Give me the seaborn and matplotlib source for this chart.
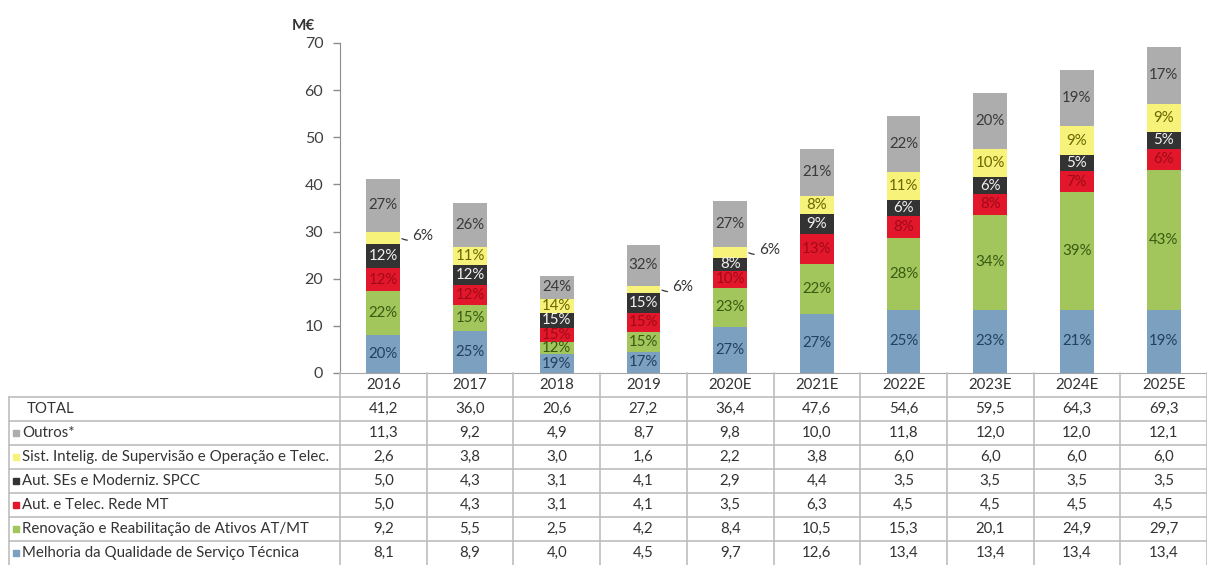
import matplotlib
matplotlib.use("Agg")
import matplotlib.pyplot as plt
import matplotlib.transforms as mtransforms
import numpy as np
import seaborn as sns

# Data (M€), bottom to top of each stack
years = ["2016", "2017", "2018", "2019", "2020E", "2021E", "2022E", "2023E", "2024E", "2025E"]
series_names = [
    "Melhoria da Qualidade de Serviço Técnica",
    "Renovação e Reabilitação de Ativos AT/MT",
    "Aut. e Telec. Rede MT",
    "Aut. SEs e Moderniz. SPCC",
    "Sist. Intelig. de Supervisão e Operação e Telec.",
    "Outros*",
]
melhoria = [8.1, 8.9, 4.0, 4.5, 9.7, 12.6, 13.4, 13.4, 13.4, 13.4]
renovacao = [9.2, 5.5, 2.5, 4.2, 8.4, 10.5, 15.3, 20.1, 24.9, 29.7]
rede_mt = [5.0, 4.3, 3.1, 4.1, 3.5, 6.3, 4.5, 4.5, 4.5, 4.5]
aut_ses = [5.0, 4.3, 3.1, 4.1, 2.9, 4.4, 3.5, 3.5, 3.5, 3.5]
sist_intelig = [2.6, 3.8, 3.0, 1.6, 2.2, 3.8, 6.0, 6.0, 6.0, 6.0]
outros = [11.3, 9.2, 4.9, 8.7, 9.8, 10.0, 11.8, 12.0, 12.0, 12.1]
total = [41.2, 36.0, 20.6, 27.2, 36.4, 47.6, 54.6, 59.5, 64.3, 69.3]

# percentage labels shown inside the segments
pct_melhoria = [20, 25, 19, 17, 27, 27, 25, 23, 21, 19]
pct_renovacao = [22, 15, 12, 15, 23, 22, 28, 34, 39, 43]
pct_rede_mt = [12, 12, 15, 15, 10, 13, 8, 8, 7, 6]
pct_aut_ses = [12, 12, 15, 15, 8, 9, 6, 6, 5, 5]
pct_sist_intelig = [6, 11, 14, 6, 6, 8, 11, 10, 9, 9]
pct_outros = [27, 26, 24, 32, 27, 21, 22, 20, 19, 17]
yellow_outside = ["2016", "2019", "2020E"]

colors = ["#7ba0c0", "#a2c55c", "#e3172b", "#333333", "#f7f27a", "#adadad"]
label_colors = ["#23405f", "#3a5a12", "#a00a18", "#f2f2f2", "#6b6600", "#3a3a3a"]

values = [melhoria, renovacao, rede_mt, aut_ses, sist_intelig, outros]
pcts = [pct_melhoria, pct_renovacao, pct_rede_mt, pct_aut_ses, pct_sist_intelig, pct_outros]

sns.set_style("white")
plt.rcParams["font.family"] = ["Lato", "DejaVu Sans"]

W, H = 1207, 565
fig = plt.figure(figsize=(W / 100, H / 100), dpi=100)
ax = fig.add_axes([340 / W, 192 / H, 867 / W, 330 / H])
tab = fig.add_axes([0, 0, 1, 192 / H])

cum = np.cumsum(np.array(values), axis=0)
# stacked bars: draw cumulative heights from top to bottom
for k in range(len(values) - 1, -1, -1):
    sns.barplot(x=years, y=cum[k], order=years, color=colors[k], saturation=1,
                width=0.39, linewidth=0, errorbar=None, ax=ax)

for k in range(len(values)):
    for i, yr in enumerate(years):
        mid = cum[k][i] - values[k][i] / 2
        if k == 4 and yr in yellow_outside:
            ax.annotate(f"{pcts[k][i]}%", xy=(i + 0.2, mid), xytext=(i + 0.33, mid + 0.5),
                        fontsize=11, color="#333333", va="center", ha="left",
                        arrowprops=dict(arrowstyle="-", color="#333333", lw=0.9,
                                        connectionstyle="arc3,rad=-0.3", shrinkA=1, shrinkB=1))
            continue
        ax.text(i, mid, f"{pcts[k][i]}%", ha="center", va="center", fontsize=10.8,
                color=label_colors[k], zorder=5)

ax.set_xlim(-0.5, len(years) - 0.5)
ax.set_ylim(0, 70)
ax.set_yticks(range(0, 71, 10))
ax.set_xticks([])
ax.set_xlabel("")
ax.set_ylabel("")
ax.tick_params(axis="y", length=5, width=1, color="#8c8c8c", labelsize=11.5,
               labelcolor="#404040", left=True, direction="out", pad=7)
for s in ["top", "right"]:
    ax.spines[s].set_visible(False)
ax.spines["left"].set_color("#8c8c8c")
ax.spines["bottom"].set_color("#a6a6a6")
ax.text(-0.92, 72.2, "M€", transform=ax.transData, fontsize=11, fontweight="bold",
        ha="center", va="bottom", color="#333333", clip_on=False)

# data table below the chart
tab.set_xlim(0, W)
tab.set_ylim(192, 0)
tab.axis("off")
trans = mtransforms.blended_transform_factory(ax.transData, tab.transData)
grid_c = "#bdbdbd"
row_h = 24
fs = 10.8

for i in range(len(years) + 1):
    tab.plot([i - 0.5, i - 0.5], [0, 192], color=grid_c, lw=1.2, transform=trans,
             clip_on=False)
tab.plot([9, 9], [row_h, 192], color=grid_c, lw=1.2)
for r in range(1, 8):
    tab.plot([9, W], [row_h * r, row_h * r], color=grid_c, lw=1.2)

for i, yr in enumerate(years):
    tab.text(i, row_h / 2, yr, transform=trans, ha="center", va="center",
             fontsize=fs, color="#333333")

rows = [("TOTAL", None, total)]
for k in range(len(values) - 1, -1, -1):
    rows.append((series_names[k], colors[k], values[k]))

for r, (name, col, vals) in enumerate(rows, start=1):
    yc = row_h * r + row_h / 2
    if col is None:
        tab.text(27, yc, name, ha="left", va="center", fontsize=fs, color="#333333")
    else:
        tab.plot([16], [yc], marker="s", markersize=5, color=col, linestyle="none")
        tab.text(22, yc, name, ha="left", va="center", fontsize=fs, color="#333333")
    for i, v in enumerate(vals):
        tab.text(i, yc, f"{v:.1f}".replace(".", ","), transform=trans, ha="center",
                 va="center", fontsize=fs, color="#333333")

fig.savefig("out.png", dpi=100)
